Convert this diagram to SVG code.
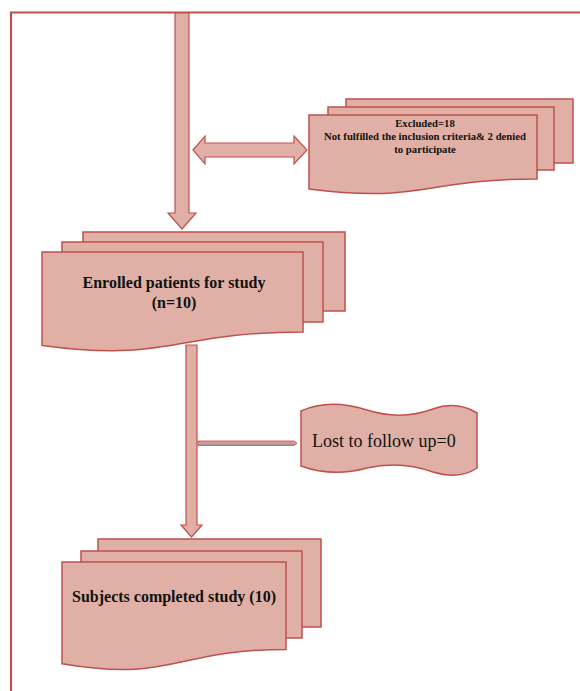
<svg xmlns="http://www.w3.org/2000/svg" width="580" height="691" viewBox="0 0 580 691">
<style>
.pg{fill:#e0b0a6;stroke:#c0504d;stroke-width:1.5}
.ar{fill:#e0b0a6;stroke:#c0504d;stroke-width:1.2}
.b{font-family:"Liberation Serif","Times New Roman",serif;font-weight:bold;fill:#111}
.r{font-family:"Liberation Serif","Times New Roman",serif;fill:#111}
</style>
<rect width="580" height="691" fill="#ffffff"/>
<path d="M11,691 V12.5 H580" fill="none" stroke="#c0504d" stroke-width="2.2"/>
<g id="connectors">
<polygon class="ar" points="175,13 189,13 189,213 196,213 182,229 168,213 175,213"/>
<polygon class="ar" points="193,150 205,136 205,143 294,143 294,136 307,150 294,164 294,157 205,157 205,164"/>
<polygon class="ar" points="186,345 197,345 197,525 202,525 191.5,537 181,525 186,525"/>
<polygon points="198,441 294,441 297,443.3 294,445.5 198,445.5" fill="#d99694" stroke="#c0504d" stroke-width="0.8"/>
<line x1="199" y1="444.6" x2="294" y2="444.6" stroke="#9a9a9a" stroke-width="1"/>
</g>
<g id="excluded">
<rect class="pg" x="346" y="99" width="227" height="64"/>
<rect class="pg" x="328" y="107" width="226" height="63"/>
<path class="pg" d="M309,115 H537 V179 C423,179 423,203.6 309,189 Z"/>
<text class="b" font-size="10.7" text-anchor="middle" x="425" y="127">Excluded=18</text>
<text class="b" font-size="10.7" text-anchor="middle" x="425" y="140">Not fulfilled the inclusion criteria&amp; 2 denied</text>
<text class="b" font-size="10.7" text-anchor="middle" x="425" y="153">to participate</text>
</g>
<g id="enrolled">
<rect class="pg" x="83" y="232" width="262" height="79"/>
<rect class="pg" x="62" y="242" width="261" height="80"/>
<path class="pg" d="M42,252 H303 V332 C172.5,332 172.5,362.75 42,345.4 Z"/>
<text class="b" font-size="16" text-anchor="middle" x="174" y="288">Enrolled patients for study</text>
<text class="b" font-size="16" text-anchor="middle" x="174" y="308">(n=10)</text>
</g>
<g id="lost">
<path class="pg" d="M301,411 C323,401 345,403 367,410 C389,417 411,417 433,409 C450,403 464,405 477,413 V468 C464,477 450,477 433,472 C411,464 389,463 367,468 C345,474 323,474 301,466 Z"/>
<text class="r" font-size="18" x="312" y="447">Lost to follow up=0</text>
</g>
<g id="completed">
<rect class="pg" x="98" y="539" width="223" height="88"/>
<rect class="pg" x="81" y="551" width="221" height="87"/>
<path class="pg" d="M62,562 H286 V649.4 C174,649.4 174,682.7 62,663.8 Z"/>
<text class="b" font-size="16" text-anchor="middle" x="174" y="602">Subjects completed study (10)</text>
</g>
</svg>
